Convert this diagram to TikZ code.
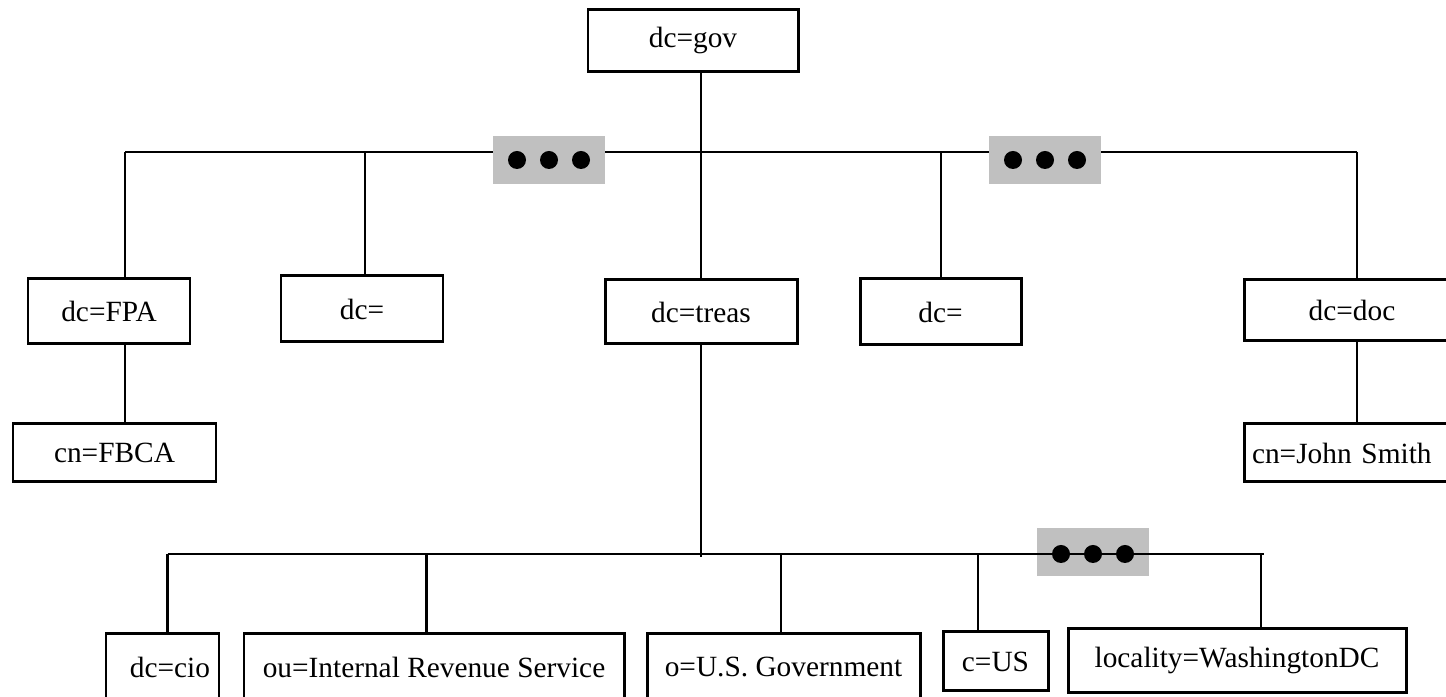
\documentclass[tikz,border=0pt]{standalone}
\usepackage{fontspec}
\setmainfont{Liberation Serif}
\usetikzlibrary{positioning}

\definecolor{moregray}{RGB}{192,192,192}

\tikzset{
	entry/.style={draw, line width=0.85pt, inner sep=0pt, minimum height=0.64cm},
	link/.style={line width=0.6pt},
	more/.style={fill=moregray, inner sep=0pt, minimum width=1.12cm, minimum height=0.48cm},
}

\begin{document}
\begin{tikzpicture}[font=\fontsize{8.35}{10}\selectfont]
		\clip (0,0) rectangle (14.46,6.97);

		% root
		\node[entry, minimum width=2.10cm, minimum height=0.62cm] (gov) at (6.93,6.56) {dc=gov};

		% second level
		\node[entry, minimum width=1.62cm, minimum height=0.65cm] (fpa) at (1.09,3.855) {dc=FPA};
		\node[entry, minimum width=1.62cm, minimum height=0.66cm] (dc1) at (3.62,3.88) {dc=};
		\node[entry, minimum width=1.92cm] (treas) at (7.01,3.85) {dc=treas};
		\node[entry, minimum width=1.61cm, minimum height=0.66cm] (dc2) at (9.405,3.85) {dc=};
		\node[entry, minimum width=2.16cm, minimum height=0.61cm] (doc) at (13.52,3.865) {dc=doc};

		\node[entry, minimum width=2.03cm, minimum height=0.58cm] (fbca) at (1.145,2.44) {cn=FBCA};
		\node[entry, minimum height=0.58cm, text width=2.0cm, align=left, inner xsep=0.08cm] (smith) at (13.52,2.44) {cn=John Smith};

		% under dc=treas
		\node[entry, minimum height=0.66cm, text width=0.95cm, align=right, inner xsep=0.09cm] (cio) at (1.625,0.30) {dc=cio};
		\node[entry, minimum width=3.80cm, minimum height=0.66cm] (irs) at (4.34,0.30) {ou=Internal Revenue Service};
		\node[entry, minimum width=2.73cm, minimum height=0.66cm] (gvt) at (7.835,0.30) {o=U.S. Government};
		\node[entry, minimum width=1.05cm, minimum height=0.59cm] (cus) at (9.955,0.355) {c=US};
		\node[entry, minimum width=3.38cm] (loc) at (12.37,0.36) {locality=WashingtonDC};

		% top bus
		\coordinate (t-fpa) at (1.25,5.45);
		\coordinate (t-dc1) at (3.65,5.45);
		\coordinate (t-dc2) at (9.41,5.45);
		\coordinate (t-doc) at (13.57,5.45);
		\draw[link] (t-fpa) -- (t-doc);
		\draw[link] (treas.north |- gov.south) -- (treas.north);
		\draw[link] (t-fpa) -- (t-fpa |- fpa.north);
		\draw[link] (t-dc1) -- (t-dc1 |- dc1.north);
		\draw[link] (t-dc2) -- (t-dc2 |- dc2.north);
		\draw[link] (t-doc) -- (t-doc |- doc.north);
		\draw[link] (t-fpa |- fpa.south) -- (t-fpa |- fbca.north);
		\draw[link] (t-doc |- doc.south) -- (t-doc |- smith.north);

		\node[more] (more1) at (5.49,5.37) {};
		\node[more] (more2) at (10.45,5.37) {};
		\node[more] (more3) at (10.93,1.45) {};

		% lower bus
		\coordinate (l-cio) at (1.675,1.43);
		\coordinate (l-irs) at (4.265,1.43);
		\coordinate (l-gvt) at (7.81,1.43);
		\coordinate (l-cus) at (9.78,1.43);
		\coordinate (l-loc) at (12.61,1.43);
		\coordinate (l-end) at (12.64,1.43);
		\draw[link] (treas.south) -- (treas.south |- l-cio) -- ++(0,-0.03);
		\draw[link] (l-cio) -- (l-end);
		\draw[link] (l-cio) -- (l-cio |- cio.north);
		\draw[link] (l-irs) -- (l-irs |- irs.north);
		\draw[link] (l-gvt) -- (l-gvt |- gvt.north);
		\draw[link] (l-cus) -- (l-cus |- cus.north);
		\draw[link] (l-loc) -- (l-loc |- loc.north);

		% dots
		\foreach \dx in {-0.32,0,0.32} {
			\fill ([xshift=\dx cm]more1.center) circle (0.09);
			\fill ([xshift=\dx cm]more2.center) circle (0.09);
			\fill ([xshift=\dx cm,yshift=-0.02cm]more3.center) circle (0.09);
		}
	\end{tikzpicture}
\end{document}
